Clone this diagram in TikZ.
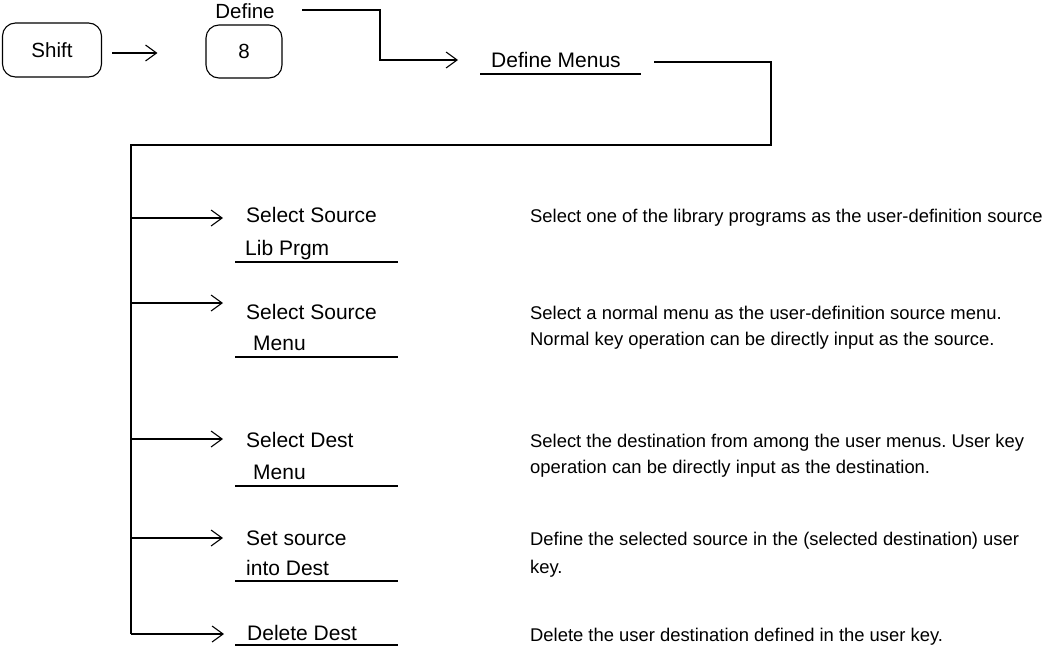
\documentclass[tikz,border=0pt]{standalone}
\usepackage{fontspec}
\setmainfont{Liberation Sans}
\usetikzlibrary{arrows.meta}
\frenchspacing
\begin{document}
\begin{tikzpicture}[x=1pt,y=-1pt,
  ln/.style={line width=1.1pt},
  arr/.style={line width=1.1pt,-{Straight Barb[length=11pt,width=16pt,line width=1.1pt]}},
  keybox/.style={draw,line width=1.1pt,rounded corners=13pt,font=\fontsize{20.5}{24}\selectfont},
  lbl/.style={inner sep=0pt,anchor=base west,font=\fontsize{21}{24}\selectfont},
  dsc/.style={inner sep=0pt,anchor=base west,font=\fontsize{18.4}{22}\frenchspacing\selectfont}]
\useasboundingbox (0,0) rectangle (1051,648);
% top row
\node[keybox,minimum width=99pt,minimum height=54pt] (shift) at (52,50) {Shift};
\node[keybox,minimum width=76pt,minimum height=53pt] (key8) at (244,51.5) {8};
\node[inner sep=0pt,anchor=base,font=\fontsize{20.5}{24}\selectfont] (deflbl) at (245,18) {Define};
\draw[arr,shorten <=10pt,shorten >=48pt] (shift.east |- 0,53) -- (key8.west |- 0,53);
\coordinate (dstart) at (302,10);
\node[lbl] (defmenu) at (491,67) {Define Menus};
\draw[ln] (480,74) -- (641,74);
\draw[arr] (dstart) -- (380,10) -- (380,60) -- ([xshift=-33pt]defmenu.west |- 0,60);
\coordinate (mstart) at (654,62);
\coordinate (trunktop) at (131,145);
\draw[ln] (mstart) -- (771,62) -- (771,145) -- (trunktop) -- (131,634);
% branches
\coordinate (b1) at (131,218);
\coordinate (b2) at (131,303);
\coordinate (b3) at (131,439);
\coordinate (b4) at (131,538);
\coordinate (b5) at (131,634);
\node[lbl] (l1) at (246,222) {Select Source};
\node[lbl] (l1b) at (245,255) {Lib Prgm};
\node[lbl] (l2) at (246,319) {Select Source};
\node[lbl] (l2b) at (253,350) {Menu};
\node[lbl] (l3) at (246,447) {Select Dest};
\node[lbl] (l3b) at (253,479) {Menu};
\node[lbl] (l4) at (246,545) {Set source};
\node[lbl] (l4b) at (246,575) {into Dest};
\node[lbl] (l5) at (247,640) {Delete Dest};
\foreach \i in {1,...,5}{
  \draw[arr] (b\i) -- ([xshift=-23pt]b\i -| l\i.west);
}
\draw[ln] (235,262) -- (398,262);
\draw[ln] (235,357) -- (398,357);
\draw[ln] (235,486) -- (398,486);
\draw[ln] (235,581) -- (398,581);
\draw[ln] (235,645) -- (398,645);
% descriptions
\node[dsc] (d1) at (530,222) {Select one of the library programs as the user-definition source};
\node[dsc] (d2) at (530,319) {Select a normal menu as the user-definition source menu.};
\node[dsc] (d2b) at (530,345) {Normal key operation can be directly input as the source.};
\node[dsc] (d3) at (530,447) {Select the destination from among the user menus. User key};
\node[dsc] (d3b) at (530,473) {operation can be directly input as the destination.};
\node[dsc] (d4) at (530,545) {Define the selected source in the (selected destination) user};
\node[dsc] (d4b) at (530,573) {key.};
\node[dsc] (d5) at (530,641) {Delete the user destination defined in the user key.};
\end{tikzpicture}
\end{document}
